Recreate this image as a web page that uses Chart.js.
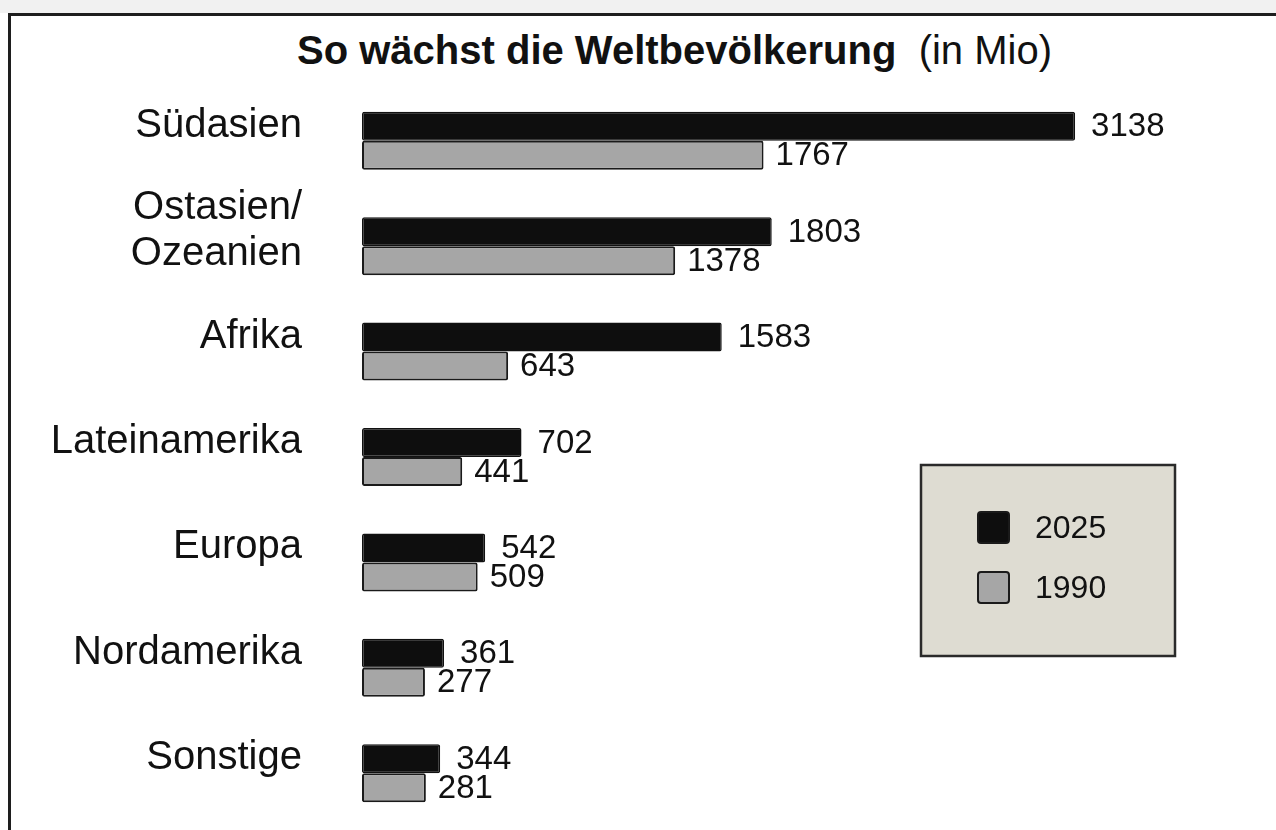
<!DOCTYPE html>
<html>
<head>
<meta charset="utf-8">
<script src="https://cdn.jsdelivr.net/npm/chart.js@4.4.0/dist/chart.umd.min.js"></script>
<style>
  html, body { margin: 0; padding: 0; background: #fff; }
  body { width: 1276px; height: 830px; position: relative; overflow: hidden; font-family: "Liberation Sans", Arial, sans-serif; }
  #topstrip { position: absolute; left: 0; top: 0; width: 1276px; height: 13px; background: #f1f1f1; }
  #frame { position: absolute; left: 8px; top: 13px; width: 1400px; height: 900px; border-left: 3px solid #1e1e1e; border-top: 3px solid #1e1e1e; }
  #title { position: absolute; left: 297px; top: 30px; margin: 0; font-size: 40px; line-height: 40px; font-weight: bold; color: #111; white-space: nowrap; }
  #title span { font-weight: normal; }
  #chart { position: absolute; left: 0; top: 0; }
</style>
</head>
<body>
<div id="topstrip"></div>
<div id="frame"></div>
<h1 id="title">So wächst die Weltbevölkerung&nbsp; <span>(in Mio)</span></h1>
<canvas id="chart" width="1276" height="830"></canvas>
<script>
// Regions and population (millions)
const regions = ['Südasien', ['Ostasien/', 'Ozeanien'], 'Afrika', 'Lateinamerika', 'Europa', 'Nordamerika', 'Sonstige'];
const pop2025 = [3138, 1803, 1583, 702, 542, 361, 344];
const pop1990 = [1767, 1378, 643, 441, 509, 277, 281];
const seriesNames = ['2025', '1990'];

const FONT = '"Liberation Sans", Arial, sans-serif';

// draws the numbers right of each bar
const valueLabels = {
    id: 'valueLabels',
    afterDatasetsDraw(chart) {
        const ctx = chart.ctx;
        ctx.save();
        ctx.font = '33px ' + FONT;
        ctx.fillStyle = '#111';
        ctx.textAlign = 'left';
        ctx.textBaseline = 'middle';
        chart.data.datasets.forEach((ds, i) => {
            const meta = chart.getDatasetMeta(i);
            meta.data.forEach((bar, j) => {
                ctx.fillText(String(ds.data[j]), bar.x + (i === 0 ? 16 : 12), bar.y + 1);
            });
        });
        ctx.restore();
    }
};

// boxed legend in the lower right
const boxLegend = {
    id: 'boxLegend',
    afterDraw(chart) {
        const ctx = chart.ctx;
        const x = 921, y = 465, w = 254, h = 191;
        ctx.save();
        ctx.fillStyle = '#dedcd2';
        ctx.strokeStyle = '#2a2a2a';
        ctx.lineWidth = 2.5;
        ctx.fillRect(x, y, w, h);
        ctx.strokeRect(x, y, w, h);
        chart.data.datasets.forEach((ds, i) => {
            const sy = 512 + i * 60;
            ctx.fillStyle = ds.backgroundColor;
            ctx.strokeStyle = '#1a1a1a';
            ctx.lineWidth = 2;
            ctx.beginPath();
            ctx.roundRect(978, sy, 31, 31, 3);
            ctx.fill();
            ctx.stroke();
            ctx.fillStyle = '#111';
            ctx.font = '32px ' + FONT;
            ctx.textBaseline = 'middle';
            ctx.fillText(ds.label, 1035, sy + 17);
        });
        ctx.restore();
    }
};

new Chart(document.getElementById('chart'), {
    type: 'bar',
    data: {
        labels: regions,
        datasets: [
            {
                label: seriesNames[0],
                data: pop2025,
                backgroundColor: '#0e0e0e',
                borderColor: '#111',
                borderWidth: 1.5,
                borderRadius: 2,
                borderSkipped: false,
                categoryPercentage: 0.55,
                barPercentage: 1.0
            },
            {
                label: seriesNames[1],
                data: pop1990,
                backgroundColor: '#a6a6a6',
                borderColor: '#1a1a1a',
                borderWidth: 2,
                borderRadius: 2,
                borderSkipped: false,
                categoryPercentage: 0.55,
                barPercentage: 1.0
            }
        ]
    },
    options: {
        indexAxis: 'y',
        responsive: false,
        animation: false,
        layout: { padding: { top: 88, bottom: 4, left: 0, right: 5 } },
        plugins: {
            legend: { display: false },
            tooltip: { enabled: false }
        },
        scales: {
            x: {
                display: false,
                min: 0,
                max: 4000
            },
            y: {
                grid: { display: false, drawTicks: false },
                border: { display: false },
                afterFit(scale) {
                    scale.width = 362;
                    scale.paddingTop = 0;
                    scale.paddingBottom = 0;
                },
                ticks: {
                    padding: 60,
                    labelOffset: -15,
                    color: '#111',
                    font: { family: FONT, size: 40, lineHeight: 1.15 }
                }
            }
        }
    },
    plugins: [valueLabels, boxLegend]
});
</script>
</body>
</html>
